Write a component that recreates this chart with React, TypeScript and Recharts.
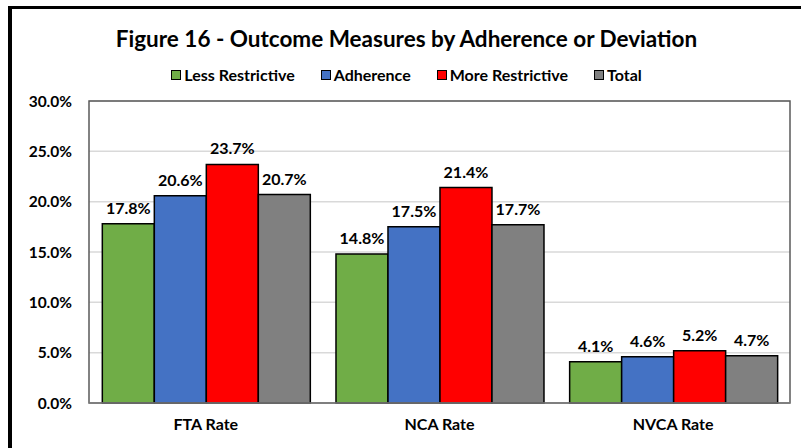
import { BarChart, Bar, XAxis, YAxis, CartesianGrid, LabelList, ReferenceArea } from 'recharts'

const categories = ['FTA Rate', 'NCA Rate', 'NVCA Rate']
const lessRestrictive = [17.8, 14.8, 4.1]
const adherence = [20.6, 17.5, 4.6]
const moreRestrictive = [23.7, 21.4, 5.2]
const total = [20.7, 17.7, 4.7]
const yTicks = [0, 5, 10, 15, 20, 25, 30]

const SERIES = [
  { key: 'less', name: 'Less Restrictive', color: '#70AD47' },
  { key: 'adh', name: 'Adherence', color: '#4472C4' },
  { key: 'more', name: 'More Restrictive', color: '#FF0000' },
  { key: 'total', name: 'Total', color: '#808080' },
]

const data = categories.map((c, i) => ({
  name: c,
  less: lessRestrictive[i],
  adh: adherence[i],
  more: moreRestrictive[i],
  total: total[i],
}))

const FONT = 'Lato, "Open Sans", sans-serif'
const pct = (v: number) => `${v.toFixed(1)}%`

export default function App() {
  return (
    <div style={{ position: 'fixed', left: 0, top: 0, width: 801, height: 448, background: '#fff', overflow: 'hidden' }}>
      <div
        style={{
          position: 'absolute', left: 8, top: 6, width: 800, height: 450,
          borderTop: '3px solid #000', borderLeft: '4px solid #000', boxSizing: 'border-box',
        }}
      />
      <div
        style={{
          position: 'absolute', left: 12, width: 801 - 12, top: 25, textAlign: 'center',
          fontFamily: FONT, fontWeight: 700, fontSize: 22.5, color: '#000',
        }}
      >
        Figure 16 - Outcome Measures by Adherence or Deviation
      </div>
      {/* legend */}
      <div
        style={{
          position: 'absolute', left: 12, width: 801 - 12, top: 65, display: 'flex', justifyContent: 'center', gap: 26,
          fontFamily: FONT, fontWeight: 700, fontSize: 16, color: '#000',
        }}
      >
        {SERIES.map((s) => (
          <span key={s.key} style={{ display: 'flex', alignItems: 'center' }}>
            <span style={{ width: 8, height: 8, background: s.color, border: '1.5px solid #000', marginRight: 3 }} />
            {s.name}
          </span>
        ))}
      </div>
      <div style={{ position: 'absolute', left: 0, top: 0 }}>
        <BarChart
          width={801}
          height={448}
          data={data}
          margin={{ top: 101, right: 11, bottom: 0, left: 0 }}
          barCategoryGap="5.7%"
          barGap={0}
        >
          <CartesianGrid vertical={false} stroke="#d9d9d9" strokeWidth={1.5} />
          <XAxis
            dataKey="name"
            axisLine={{ stroke: '#808080', strokeWidth: 1.5 }}
            tickLine={false}
            tickSize={0}
            tickMargin={16}
            height={45}
            tick={{ fill: '#000', fontFamily: FONT, fontWeight: 700, fontSize: 16 }}
          />
          <YAxis
            domain={[0, 30]}
            ticks={yTicks}
            tickFormatter={pct}
            width={89}
            axisLine={false}
            tickLine={false}
            tickSize={0}
            tickMargin={17}
            tick={{ fill: '#000', fontFamily: FONT, fontWeight: 700, fontSize: 15.5 }}
          />
          {/* plot area border */}
          <ReferenceArea y1={0} y2={30} fill="none" stroke="#595959" strokeWidth={1.5} fillOpacity={0} />
          {SERIES.map((s) => (
            <Bar key={s.key} dataKey={s.key} name={s.name} fill={s.color} stroke="#000" strokeWidth={1.5} isAnimationActive={false}>
              <LabelList dataKey={s.key} position="top" offset={10} formatter={(v: number) => pct(v)}
                style={{ fill: '#000', fontFamily: FONT, fontWeight: 700, fontSize: 16 }} />
            </Bar>
          ))}
        </BarChart>
      </div>
    </div>
  )
}
